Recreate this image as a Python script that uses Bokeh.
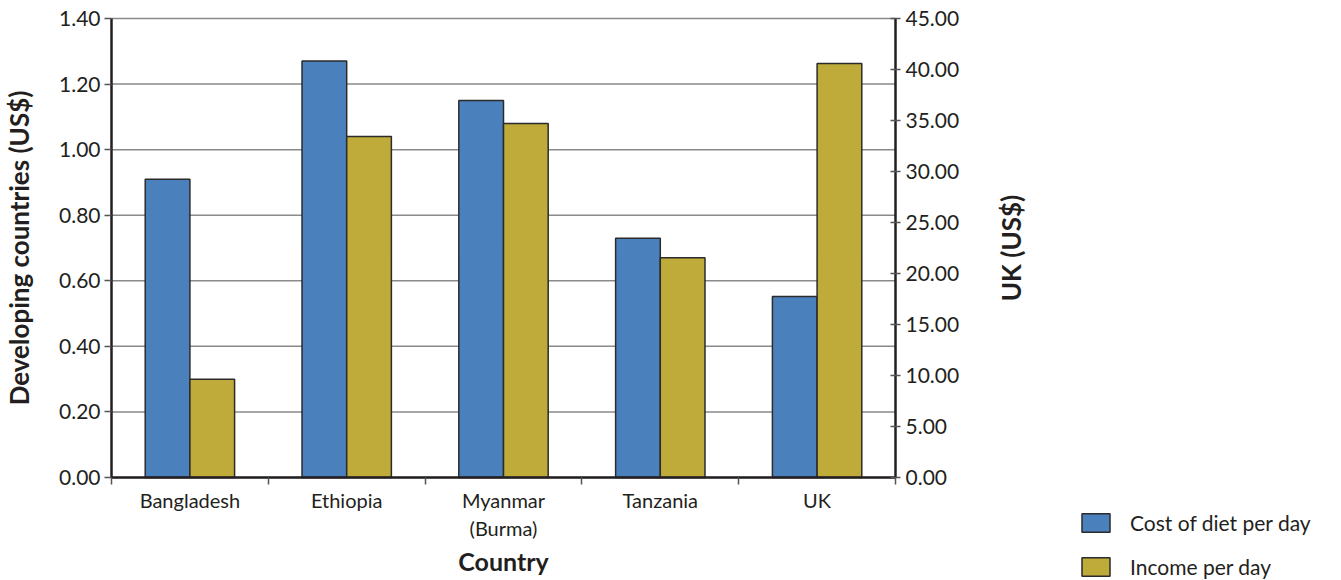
import math
from bokeh.plotting import figure
from bokeh.models import (Range1d, LinearAxis, FixedTicker, NumeralTickFormatter,
                          ColumnDataSource, Legend, LegendItem, Label)
from bokeh.embed import file_html
from bokeh.resources import INLINE

countries = ["Bangladesh", "Ethiopia", "Myanmar (Burma)", "Tanzania", "UK"]
tick_labels = ["Bangladesh", "Ethiopia", "Myanmar\n(Burma)", "Tanzania", "UK"]
cost_per_day = [0.91, 1.27, 1.15, 0.73, 17.75]
income_per_day = [0.30, 1.04, 1.08, 0.67, 40.6]
uses_uk_axis = [False, False, False, False, True]
left_ticks = [0.0, 0.2, 0.4, 0.6, 0.8, 1.0, 1.2, 1.4]
right_ticks = [0, 5, 10, 15, 20, 25, 30, 35, 40, 45]
series_names = ["Cost of diet per day", "Income per day"]

FONT = "Lato"
TXT = "#231F20"
BLUE = "#4A81BD"
GOLD = "#BFAB3A"
OUT = "#2b2b2b"
BW = 0.285

# page layout (pixels): plotting area inside a frame that covers the whole canvas
W, H = 1341, 580
PL, PR, PT, PB = 111, 895, 18, 477
n = len(countries)
LEFT_MAX = left_ticks[-1]
UK_MAX = right_ticks[-1]
xs = (PR - PL) / n
ys = (PB - PT) / LEFT_MAX
us = (PB - PT) / UK_MAX

p = figure(width=W, height=H, output_backend="svg", toolbar_location=None,
           x_range=Range1d(-PL / xs, n + (W - PR) / xs),
           y_range=Range1d(-(H - PB) / ys, LEFT_MAX + PT / ys),
           x_axis_location=None, y_axis_location=None,
           min_border_left=0, min_border_right=0, min_border_top=0, min_border_bottom=0)
p.outline_line_color = None
p.grid.grid_line_color = None
p.extra_y_ranges = {"uk": Range1d(-(H - PB) / us, UK_MAX + PT / us)}

idx = list(range(n))
dev = ColumnDataSource(dict(
    xb=[i + 0.5 - BW / 2 for i in idx if not uses_uk_axis[i]],
    xg=[i + 0.5 + BW / 2 for i in idx if not uses_uk_axis[i]],
    cost=[cost_per_day[i] for i in idx if not uses_uk_axis[i]],
    inc=[income_per_day[i] for i in idx if not uses_uk_axis[i]],
))
uk = ColumnDataSource(dict(
    xb=[i + 0.5 - BW / 2 for i in idx if uses_uk_axis[i]],
    xg=[i + 0.5 + BW / 2 for i in idx if uses_uk_axis[i]],
    cost=[cost_per_day[i] for i in idx if uses_uk_axis[i]],
    inc=[income_per_day[i] for i in idx if uses_uk_axis[i]],
))

# horizontal gridlines at the left-axis ticks, across the plotting area
p.segment(x0=0, x1=n, y0=left_ticks, y1=left_ticks, line_color="#8a8a8a", line_width=1.5)

r1 = p.vbar(x="xb", top="cost", width=BW, source=dev, fill_color=BLUE, line_color=OUT, line_width=1.5)
r2 = p.vbar(x="xg", top="inc", width=BW, source=dev, fill_color=GOLD, line_color=OUT, line_width=1.5)
p.vbar(x="xb", top="cost", width=BW, source=uk, fill_color=BLUE, line_color=OUT, line_width=1.5, y_range_name="uk")
p.vbar(x="xg", top="inc", width=BW, source=uk, fill_color=GOLD, line_color=OUT, line_width=1.5, y_range_name="uk")

# x axis
xa = LinearAxis(fixed_location=0, bounds=(0, n),
                ticker=FixedTicker(ticks=[i + 0.5 for i in idx], minor_ticks=list(range(n + 1))))
xa.major_label_overrides = {i + 0.5: tick_labels[i] for i in idx}
xa.major_tick_out = 0
xa.major_tick_in = 0
xa.minor_tick_out = 7
xa.minor_tick_in = 0
xa.minor_tick_line_color = "#555555"
xa.minor_tick_line_width = 1.5
xa.axis_line_width = 2.5
xa.axis_line_color = TXT
xa.major_label_text_font = FONT
xa.major_label_text_font_size = "20px"
xa.major_label_text_color = TXT
xa.major_label_standoff = 3
xa.axis_label = "Country"
xa.axis_label_text_font = FONT
xa.axis_label_text_font_size = "25px"
xa.axis_label_text_font_style = "bold"
xa.axis_label_text_color = TXT
xa.axis_label_standoff = 3
p.add_layout(xa, "below")

# left axis
ya = LinearAxis(fixed_location=0, bounds=(0, LEFT_MAX), ticker=FixedTicker(ticks=left_ticks),
                formatter=NumeralTickFormatter(format="0.00"))
ya.major_tick_out = 7
ya.major_tick_in = 0
ya.minor_tick_out = 0
ya.minor_tick_in = 0
ya.axis_line_width = 2.5
ya.axis_line_color = TXT
ya.major_tick_line_color = "#555555"
ya.major_tick_line_width = 1.5
ya.major_label_text_font = FONT
ya.major_label_text_font_size = "21px"
ya.major_label_text_color = TXT
ya.major_label_standoff = 4
ya.axis_label = "Developing countries (US$)"
ya.axis_label_text_font = FONT
ya.axis_label_text_font_size = "26px"
ya.axis_label_text_font_style = "bold"
ya.axis_label_text_color = TXT
ya.axis_label_standoff = 21
p.add_layout(ya, "left")

# right axis
ra = LinearAxis(y_range_name="uk", fixed_location=n, bounds=(0, UK_MAX),
                ticker=FixedTicker(ticks=right_ticks), formatter=NumeralTickFormatter(format="0.00"))
ra.major_tick_out = 5
ra.major_tick_in = 5
ra.minor_tick_out = 0
ra.minor_tick_in = 0
ra.axis_line_width = 2.5
ra.axis_line_color = TXT
ra.major_tick_line_color = "#555555"
ra.major_tick_line_width = 1.5
ra.major_label_text_font = FONT
ra.major_label_text_font_size = "21px"
ra.major_label_text_color = TXT
ra.major_label_standoff = 5
p.add_layout(ra, "right")

# right-axis title, reading bottom to top like the left one
p.add_layout(Label(x=1010, y=H - (PT + PB) / 2, x_units="screen", y_units="screen",
                   text="UK (US$)", angle=math.pi / 2, text_align="center", text_baseline="middle",
                   text_font=FONT, text_font_size="26px", text_font_style="bold", text_color=TXT))

legend = Legend(items=[LegendItem(label=series_names[0], renderers=[r1]),
                       LegendItem(label=series_names[1], renderers=[r2])],
                location=(1078, 1), padding=0, margin=0, spacing=19,
                glyph_width=35, glyph_height=23, label_height=23, label_standoff=17,
                label_text_font=FONT, label_text_font_size="21px", label_text_color=TXT,
                border_line_alpha=0, background_fill_alpha=0)
p.add_layout(legend, "center")

open("out.html", "w").write(file_html(p, INLINE))
